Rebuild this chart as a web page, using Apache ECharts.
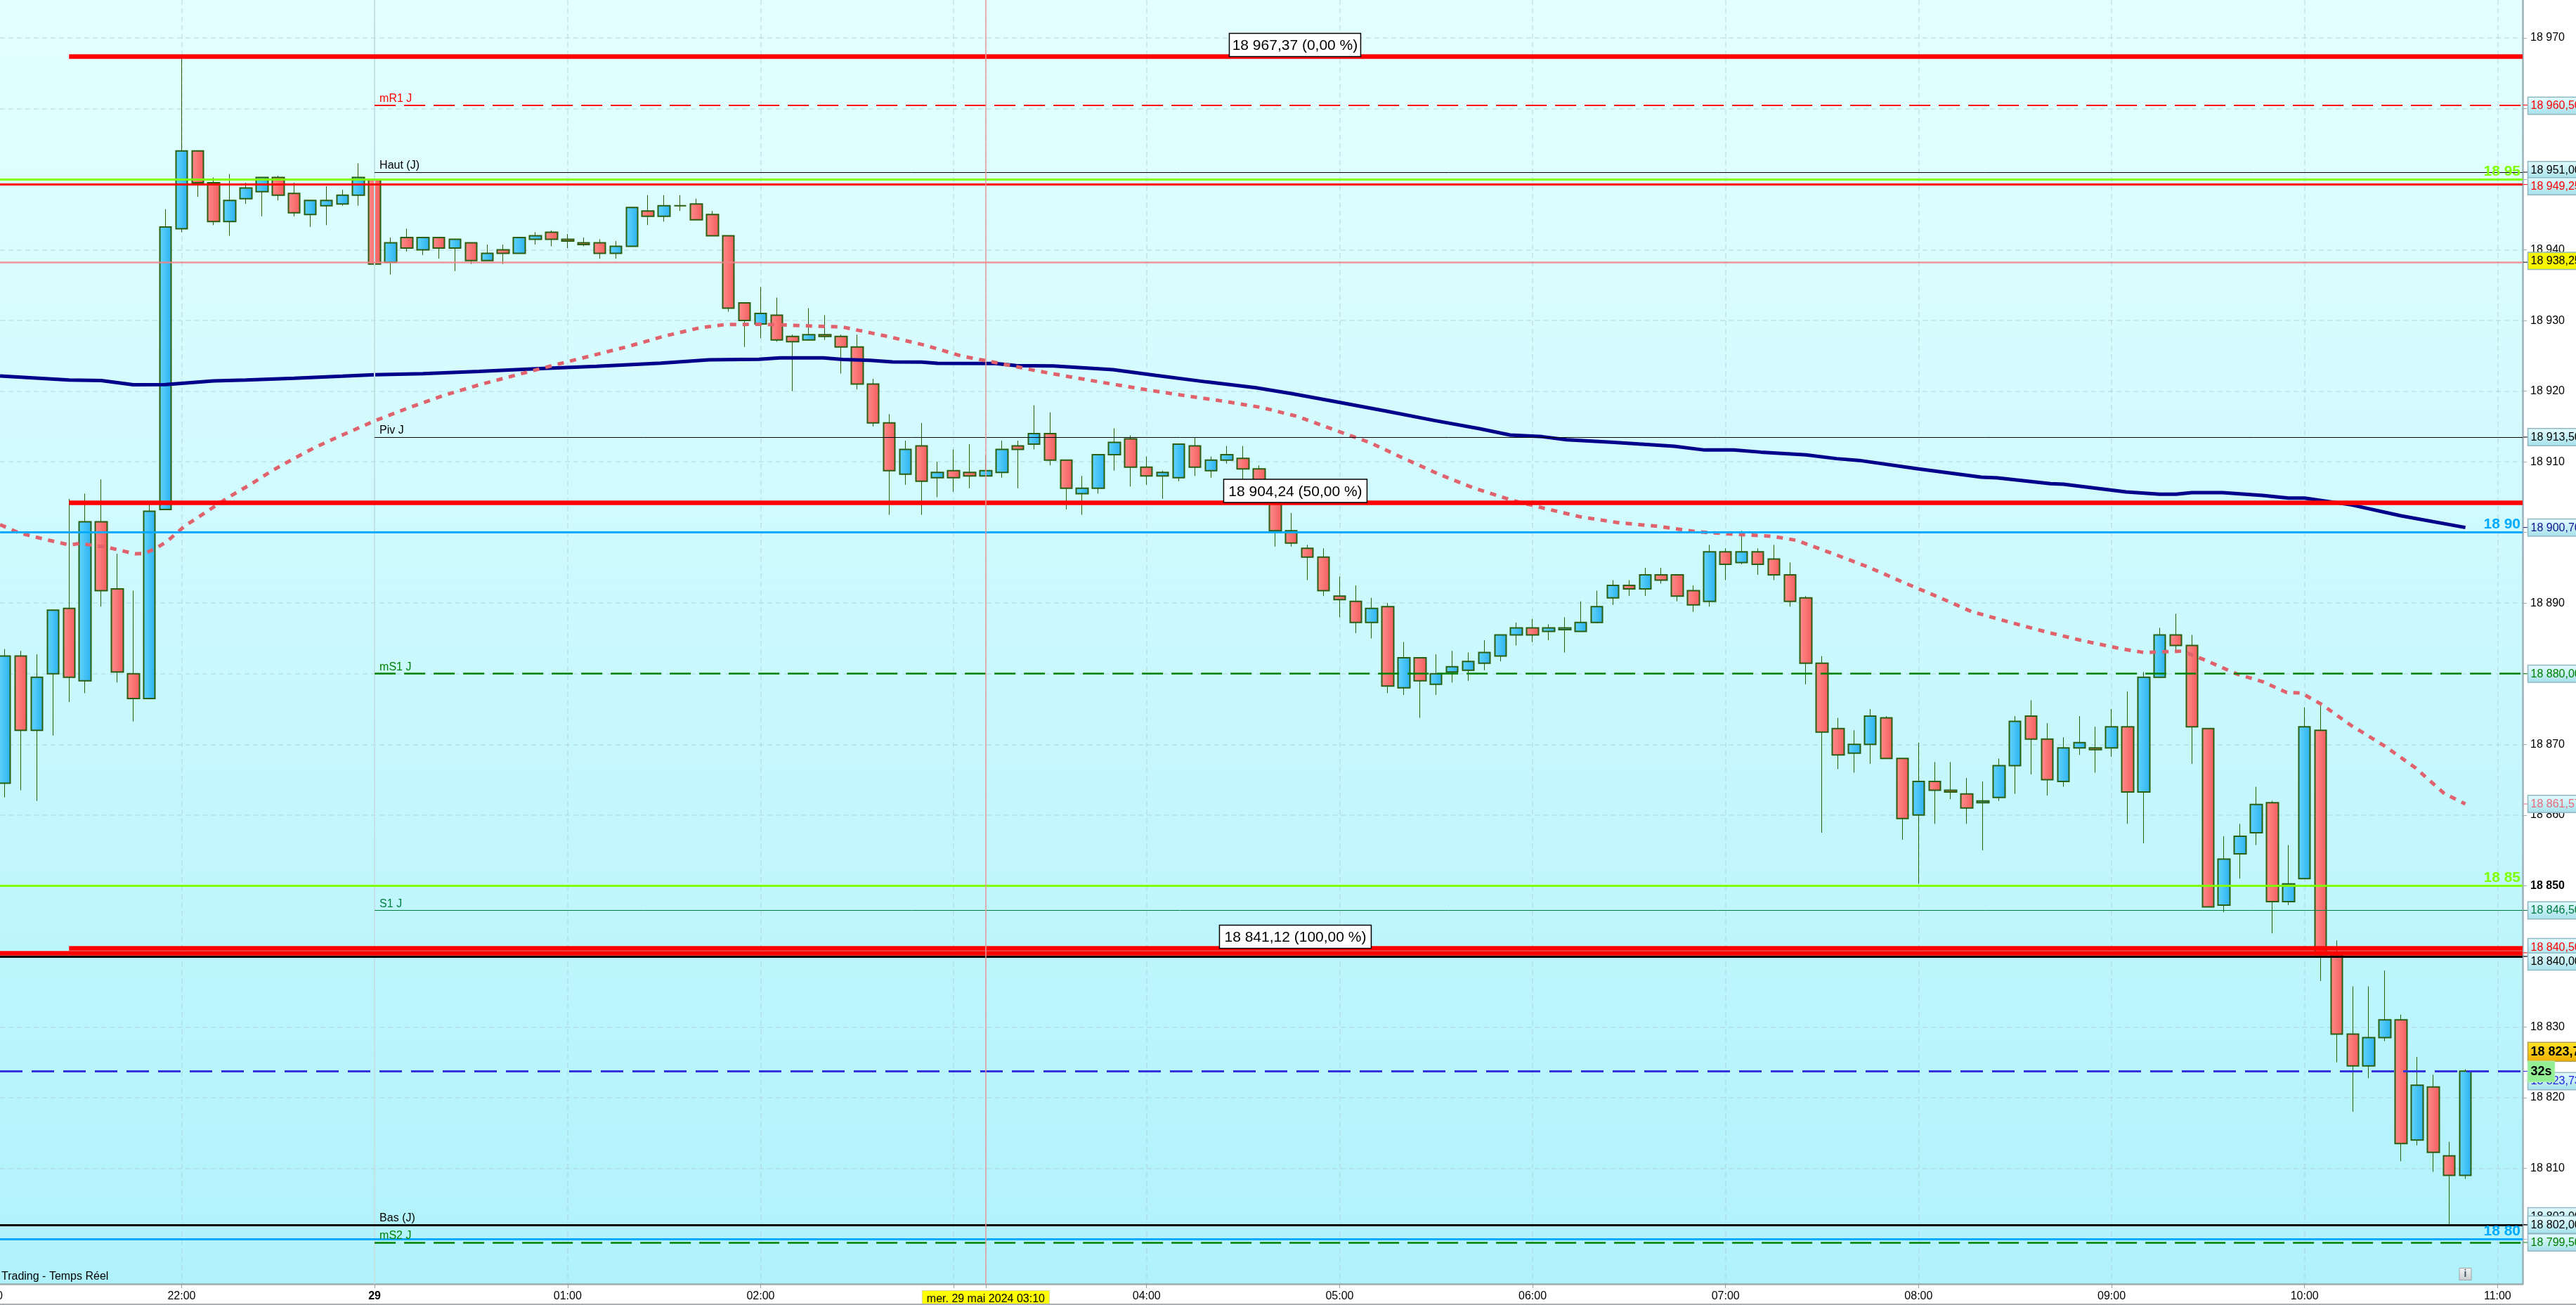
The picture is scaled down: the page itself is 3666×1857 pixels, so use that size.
<!DOCTYPE html>
<html><head><meta charset="utf-8">
<style>html,body{margin:0;padding:0;background:#fff}#c{width:3666px;height:1857px}</style>
<script src="https://cdn.jsdelivr.net/npm/echarts@6/dist/echarts.min.js"></script>
</head><body><div id="c"></div>
<script>
const opens=[18864.5,18882.5,18872,18880,18889.25,18879,18901.5,18892,18880,18876.5,
18903.25,18943,18954,18949.5,18944,18947.25,18948.25,18950.25,18948,18945,
18946.25,18946.5,18947.75,18950,18938.25,18941.75,18940,18941.75,18940.25,18941,
18938.5,18940,18939.5,18941.5,18942.5,18941.5,18941,18941,18939.5,18940.5,
18945.5,18944.75,18946.25,18946.5,18945,18942,18932.5,18929.5,18930.75,18927.75,
18927.25,18928,18927.75,18926.25,18921,18915.5,18908.25,18912.25,18907.75,18908.75,
18908.5,18908,18908.5,18912.25,18912.5,18914,18910.25,18905.5,18906.25,18911,
18913.25,18909.25,18908,18907.75,18912.25,18908.75,18910.25,18910.5,18909,18904.5,
18900.25,18897.75,18896.5,18891,18890.25,18887.25,18889.5,18878,18882.25,18878.5,
18880.25,18880.5,18881.5,18882.5,18885.5,18886.5,18886,18886.25,18886,18887.25,
18890.75,18892.5,18892,18894,18894,18891.75,18890.25,18897.25,18895.75,18897.25,
18896.25,18894,18890.75,18881.5,18872.25,18868.75,18870,18873.75,18868,18860,
18864.75,18863.5,18863,18861.75,18862.5,18867,18874,18870.75,18864.75,18869.5,
18869.5,18869.5,18872.5,18863.25,18879.5,18885.5,18884,18872.25,18847.25,18854.5,
18857.5,18861.75,18847.75,18851,18872,18840.25,18829,18824.5,18828.5,18831,
18814,18821.5,18811.75,18809];
const closes=[18882.5,18872,18879.5,18889,18879.5,18901.5,18891.75,18880.25,18876.5,18903,
18943.25,18954,18949.5,18944,18947,18948.75,18950.25,18947.75,18945.25,18947,
18947,18947.75,18950.25,18938,18941,18940.25,18941.75,18940.25,18941.5,18938.5,
18939.5,18939.5,18941.75,18942,18941.5,18941.25,18940.75,18939.5,18940.5,18946,
18944.75,18946.25,18946.25,18944.25,18942,18931.75,18930,18931,18927.25,18927,
18928,18927.75,18926.25,18921,18915.5,18908.75,18911.75,18907.25,18908.5,18907.75,
18908,18908.75,18911.75,18911.75,18914,18910.25,18906.25,18906.25,18911,18912.75,
18909.25,18908,18908.5,18912.5,18909.25,18910.25,18911,18909,18904.5,18900.25,
18898.5,18896.5,18891.75,18890.5,18887.25,18889.25,18878.25,18882.25,18879,18880,
18881,18881.75,18883,18885.5,18886.5,18885.5,18886.5,18886.5,18887.25,18889.5,
18892.5,18892,18894,18893.25,18891,18889.75,18897.25,18895.5,18897.25,18895.5,
18894,18890.25,18881.5,18871.75,18868.5,18870,18874,18868,18859.5,18864.75,
18863.5,18863.25,18861,18862,18867,18873.25,18870.75,18865,18869.5,18870.25,
18869.25,18872.5,18863.25,18879.5,18885.5,18884,18872.5,18847,18853.75,18857,
18861.5,18847.75,18850.25,18872.5,18840.25,18829,18824.5,18828.5,18831,18813.5,
18821.75,18812.25,18809,18823.75];
const lows=[18862.5,18863.5,18862,18871.25,18876,18877.25,18889.5,18878.75,18873.25,18876.5,
18903.25,18942.5,18947.5,18943.5,18942,18946.5,18944.75,18947,18944.75,18943.25,
18943.5,18946.25,18946.25,18937,18936.5,18939.75,18939.25,18938.75,18937,18938,
18938.5,18938,18939.5,18940.75,18940.5,18940.25,18940.5,18938.75,18938.75,18940.5,
18943.5,18944,18945.5,18944.25,18942,18931.25,18926.25,18927.5,18927,18920,
18927.25,18927.25,18922.5,18920.25,18915,18902.5,18906.75,18902.5,18905,18905.75,
18906.25,18908,18907.75,18906.25,18911.75,18909.5,18903.25,18902.5,18905.5,18908.75,
18906.5,18906.75,18904.75,18907.25,18908,18907.75,18909.75,18904.5,18904,18898,
18898,18893.25,18891,18888,18885.75,18885,18877.25,18877,18873.75,18877,
18878.75,18879,18880.5,18881.75,18884,18884.5,18884.75,18883,18886,18887.25,
18889.75,18891,18891,18892.75,18890.25,18888.75,18889.5,18893.25,18895.5,18894,
18893.25,18889.5,18878.5,18857.5,18866.5,18866,18867.25,18868,18856.5,18850.25,
18858.75,18862.25,18858.75,18855,18862,18863,18865.75,18862.75,18864,18868.5,
18866,18868.25,18858.75,18856,18879.5,18883,18867.25,18847,18846.25,18851,
18855.75,18843.25,18847.25,18851,18836.5,18825,18818,18822.75,18828,18811,
18813.25,18809.5,18802,18808.5];
const highs=[18883.5,18883.25,18882.75,18889,18904.75,18905.5,18907.5,18897,18891.75,18904,
18945.75,18967.25,18954,18950.25,18950.75,18949.5,18950.25,18950.5,18949.5,18947,
18949,18948.5,18952.25,18951,18941.75,18943,18941.75,18941.75,18941.5,18941,
18940.75,18940.75,18941.75,18942.5,18942.75,18942.25,18941.75,18941.5,18941.25,18946,
18947.75,18947.75,18947.75,18947.25,18945.5,18942,18932.5,18934.75,18933.25,18928,
18931.75,18930.75,18928,18928,18921.75,18916.75,18913,18915.5,18910,18911.75,
18912.5,18911,18913,18913,18918,18917,18910.25,18908,18911,18914.75,
18913.75,18910.75,18908.75,18912.5,18913.5,18910.75,18912.25,18912.25,18909.5,18904.5,
18902.75,18898.25,18897.75,18893.75,18892.5,18890.75,18890,18884.5,18882.25,18882.75,
18883.25,18883,18884.75,18885.5,18887.25,18887.75,18887,18888,18890.25,18891.75,
18893.25,18893.25,18895,18895,18894,18892.5,18898.25,18897.75,18900.25,18897.75,
18898.25,18895.75,18891,18882.5,18873.75,18872,18875,18874,18868,18870.25,
18867.5,18867.5,18865.25,18864.75,18868,18874,18876.25,18873,18871,18874,
18872.5,18875,18877.5,18880.25,18886.5,18888.5,18885.5,18872.25,18857,18858.75,
18864,18862,18855.75,18875.25,18875.5,18842.25,18835.75,18835.75,18838,18831.75,
18825.75,18823.25,18813.75,18824];

const smaIdx=[-0.29,4,6,8,10,13,15,18,21,23,26,29.5,33,36.8,40.8,43.8,46.9,48.2,50.9,52.1,53.8,55.2,57,58,61.6,62.9,65.2,68.9,71.6,74.7,77.8,80,82.8,85.9,88.9,91.7,93.6,95.6,97.1,99.9,103.8,105.7,107.5,109.2,112,113.9,115.3,119,122.9,123.9,127.2,128,131.9,134,135,136,137.9,140.4,142,143,145.9,149,153];
const smaVal=[18922.16,18921.57,18921.5,18920.9,18920.94,18921.45,18921.57,18921.84,18922.12,18922.32,18922.47,18922.79,18923.18,18923.53,18923.96,18924.44,18924.52,18924.72,18924.72,18924.5,18924.37,18924.14,18924.11,18923.94,18923.91,18923.61,18923.58,18923.05,18922.22,18921.32,18920.49,18919.66,18918.5,18917.18,18915.85,18914.69,18913.8,18913.56,18913.13,18912.77,18912.2,18911.67,18911.67,18911.37,18910.98,18910.45,18910.2,18908.99,18907.83,18907.73,18906.9,18906.83,18905.74,18905.41,18905.41,18905.64,18905.64,18905.24,18904.87,18904.87,18903.91,18902.35,18900.7];
const emaIdx=[-0.29,0.9,2.5,4,4.7,6.4,8.1,8.7,9.4,10.1,11.2,12.6,13.9,15.3,16.6,17.9,19.3,20.8,23,25.1,27.3,29.5,31.8,34.1,36.5,38.7,41,43.2,44.8,47.2,49.5,52.1,54.9,57.3,59.5,61.8,64.1,66.5,68.9,71.1,73.5,75.8,78.2,80.4,82.6,84.9,87,89.2,91.3,93.7,95.8,98,100.4,102.8,105.2,107.5,109.9,111.4,113.7,115.9,118,120.2,122.3,124.7,126.9,129.1,131.5,133,135.4,136.8,138.8,140.4,141.9,142.8,144.1,145.9,148,149.9,151.7,153];
const emaVal=[18901.11,18899.93,18899.03,18898.24,18898.44,18897.89,18896.98,18897.02,18897.77,18898.75,18900.92,18903,18904.97,18906.82,18908.71,18910.36,18912.05,18913.6,18915.79,18917.63,18919.4,18920.9,18922.28,18923.65,18925.03,18926.29,18927.78,18928.96,18929.43,18929.47,18929.28,18929.08,18927.75,18926.46,18924.97,18923.97,18922.91,18921.92,18920.99,18920.16,18919.33,18918.57,18917.67,18916.41,18914.59,18912.7,18910.48,18908.22,18906.33,18904.57,18903.38,18902.2,18901.36,18900.87,18900.1,18899.76,18899.46,18898.89,18896.98,18895.08,18892.99,18890.89,18888.8,18887.28,18885.94,18884.73,18883.58,18883.01,18883.2,18881.95,18879.96,18878.87,18877.34,18877.28,18875.62,18872.68,18869.74,18866.67,18863.03,18861.57];

const priceTicks=[18800,18810,18820,18830,18840,18850,18860,18870,18880,18890,18900,18910,18920,18930,18940,18950,18960,18970];
const timeIdx=[11,23,35,47,59,61,71,83,95,107,119,131,143,155];
const timeLabels=['22:00','29','01:00','02:00','','mer. 29 mai 2024 03:10','04:00','05:00','06:00','07:00','08:00','09:00','10:00','11:00'];

const fibValues=[18967.37,18904.24,18841.12];
const fibTexts=['18 967,37 (0,00 %)','18 904,24 (50,00 %)','18 841,12 (100,00 %)'];
const levelValues=[18960.5,18951,18950,18949.25,18938.25,18913.5,18904.24,18900,18880,18850,18846.5,18841.12,18840.5,18840,18823.75,18802,18800,18799.5,18967.37];
const lineLabelValues=[18960.5,18951,18913.5,18880,18846.5,18802,18799.5];
const lineLabelTexts=['mR1 J','Haut (J)','Piv J','mS1 J','S1 J','Bas (J)','mS2 J'];
const roundValues=[18950,18900,18850,18800];
const roundTexts=['18 95','18 90','18 85','18 80'];
const tagValues=[18960.5,18951,18949.25,18938.25,18913.5,18900.7,18880,18861.57,18846.5,18840.5,18840,18823.73,18823.75,18823.75,18802,18802,18799.5];
const tagTexts=['18 960,50','18 951,00','18 949,25','18 938,25','18 913,50','18 900,70','18 880,00','18 861,57','18 846,50','18 840,50','18 840,00','18 823,73','18 823,75','32s','18 802,00','18 802,00','18 799,50'];

// ---- presentation ----
const FONT='"Liberation Sans"';
const RED='#FF0000',LIME='#7FFF00',SKY='#00AAFF',GREEN='#008000',BLK='#000000';
const xMin=-0.2927,xMax=156.558,yMin=18793.63,yMax=18975.37;
const levelStyle=[
 {c:RED,w:2,d:[30,12],s:23},{c:BLK,w:1,s:23},{c:LIME,w:3,s:xMin},{c:RED,w:3,s:xMin},
 {c:'rgba(240,130,135,.85)',w:2.5,s:xMin},{c:BLK,w:1,s:23},{c:RED,w:6.5,s:4},{c:SKY,w:3,s:xMin},
 {c:GREEN,w:2.5,d:[30,12],s:23},{c:LIME,w:3,s:xMin},{c:'#008040',w:1,s:23},{c:RED,w:6.5,s:4},
 {c:RED,w:6.5,s:xMin},{c:BLK,w:3,s:xMin},{c:'#3333DD',w:3,d:[32,13],s:xMin},{c:BLK,w:3,s:xMin},
 {c:SKY,w:3,s:xMin},{c:GREEN,w:2.5,d:[30,12],s:23},{c:RED,w:6.5,s:4}];
const lineLabelColor=[RED,BLK,BLK,GREEN,'#008040',BLK,GREEN];
const roundColor=[LIME,SKY,LIME,SKY];
const fibBox=[[-94,93],[-102,102],[-108,108]];
const tagStyle=[
 {c:RED,y:1},{c:BLK,y:-3},{c:RED,y:2.4},{c:BLK,y:-2,bg:'y'},{c:BLK},{c:'#101090'},{c:GREEN},{c:'#E66C7A'},{c:'#007A40'},
 {c:RED,y:-8},{c:BLK,y:7.5},{c:'#2222DD',y:14},{c:BLK,y:-27.5,bg:'g',b:1,h:27},{c:BLK,y:0.5,bg:'l',b:1,h:29,w:38},
 {c:BLK,y:-12},{c:BLK},{c:GREEN}];
const grad=(a,b,h)=>({type:'linear',x:0,y:0,x2:h?1:0,y2:h?0:1,colorStops:[{offset:0,color:a},{offset:1,color:b}]});

const chart=echarts.init(document.getElementById('c'),null,{renderer:'canvas'});
const hl=(v,st)=>[{coord:[st.s,v],lineStyle:{color:st.c,width:st.w,type:st.d||'solid',cap:'butt'}},{coord:[xMax,v]}];
const candleRows=opens.map((o,i)=>[i,o,closes[i],lows[i],highs[i]]);
const bodyRows=opens.map((o,i)=>[i,o,closes[i],Math.min(o,closes[i]),Math.max(o,closes[i])]);
const wickStyle='#2A5F10';

chart.setOption({
 animation:false,
 backgroundColor:'#ffffff',
 grid:{left:0,right:76,top:0,bottom:30,show:true,borderWidth:0,outerBoundsMode:'none',backgroundColor:grad('#E4FFFF','#B0F2FC')},
 xAxis:{type:'value',min:xMin,max:xMax,position:'bottom',
  axisLine:{show:true,onZero:false,lineStyle:{color:'#A0ACB0',width:2.5}},
  axisTick:{show:true,length:6,customValues:timeIdx,lineStyle:{color:'#8FA0A6',width:1}},
  splitLine:{show:true,lineStyle:{color:'rgba(175,205,215,.42)',width:2,type:[7,5]}},
  axisLabel:{customValues:timeIdx,margin:10,fontFamily:FONT,fontSize:16,color:'#000',
   formatter:v=>{const t=timeLabels[timeIdx.indexOf(v)];if(t==='29')return '{b|29}';if(t&&t.length>6)return '{d|'+t+'}';return t||'';},
   rich:{b:{fontFamily:FONT,fontSize:16,fontWeight:'bold',color:'#000'},
    d:{fontFamily:FONT,fontSize:16,color:'#000',backgroundColor:'#FFFF00',borderColor:'#D8D8B0',borderWidth:1,padding:[4,6,3,6]}}}},
 yAxis:{type:'value',min:yMin,max:yMax,position:'right',
  axisLine:{show:true,onZero:false,lineStyle:{color:'#9CB0B8',width:2.5}},
  axisTick:{show:true,length:6,customValues:priceTicks,lineStyle:{color:'#9CB0B8',width:1}},
  splitLine:{show:true,lineStyle:{color:'rgba(175,205,215,.42)',width:2,type:[7,5]}},
  axisLabel:{customValues:priceTicks,margin:11,fontFamily:FONT,fontSize:16,color:'#000',
   formatter:v=>{const s=String(v);const t=s.slice(0,2)+' '+s.slice(2);return v===18850?'{b|'+t+'}':t;},
   rich:{b:{fontFamily:FONT,fontSize:16,fontWeight:'bold',color:'#000'}}}},
 series:[
  {type:'line',name:'guide',z:1,data:[],silent:true,markLine:{silent:true,symbol:'none',animation:false,label:{show:false},
    data:[[{coord:[23,yMin],lineStyle:{color:'#C3E2E6',width:2,type:'solid'}},{coord:[23,yMax]}]]}},
  {type:'candlestick',name:'wicks',z:2,barWidth:2,data:candleRows,silent:true,
   itemStyle:{color:wickStyle,color0:wickStyle,borderColor:wickStyle,borderColor0:wickStyle,borderColorDoji:wickStyle,borderWidth:1}},
  {type:'candlestick',name:'bodies',z:3,barWidth:17,data:bodyRows,silent:true,
   itemStyle:{color:grad('#62D6FF','#2BB0EC',true),color0:grad('#FF8C8C','#F45C5C',true),borderColor:wickStyle,borderColor0:wickStyle,borderColorDoji:wickStyle,borderWidth:2}},
  {type:'line',name:'SMA',z:4,showSymbol:false,silent:true,data:smaIdx.map((x,i)=>[x,smaVal[i]]),lineStyle:{color:'#00008B',width:5}},
  {type:'line',name:'EMA',z:4,showSymbol:false,silent:true,data:emaIdx.map((x,i)=>[x,emaVal[i]]),lineStyle:{color:'#E0626C',width:5,type:[9,9],cap:'butt'}},
  {type:'custom',name:'lineLabels',z:5,silent:true,coordinateSystem:'cartesian2d',
   data:lineLabelValues.map(v=>[23,v]),
   renderItem:(p,api)=>{const c=api.coord([api.value(0),api.value(1)]);
    return {type:'text',style:{x:c[0]+7,y:c[1]-1,text:lineLabelTexts[p.dataIndex],fill:lineLabelColor[p.dataIndex],font:'16px '+FONT,align:'left',verticalAlign:'bottom'}};}},
  {type:'custom',name:'fibLabels',z:5,silent:true,coordinateSystem:'cartesian2d',
   data:fibValues.map(v=>[80.25,v]),
   renderItem:(p,api)=>{const c=api.coord([api.value(0),api.value(1)]);const b=fibBox[p.dataIndex];
    return {type:'group',children:[
     {type:'rect',shape:{x:c[0]+b[0],y:c[1]-33,width:b[1]-b[0],height:33},style:{fill:'#fff',stroke:'#000',lineWidth:1.5}},
     {type:'text',style:{x:c[0]+(b[0]+b[1])/2,y:c[1]-15,text:fibTexts[p.dataIndex],fill:'#000',font:'21px '+FONT,align:'center',verticalAlign:'middle'}}]};}},
  {type:'line',name:'levels',z:6,data:[],silent:true,markLine:{silent:true,symbol:'none',animation:false,label:{show:false},
    data:levelValues.map((v,i)=>hl(v,levelStyle[i])).concat([[{coord:[61,yMin],lineStyle:{color:'#E89A9A',width:1.5,type:'solid'}},{coord:[61,yMax]}]])}},
  {type:'custom',name:'roundLabels',z:7,silent:true,coordinateSystem:'cartesian2d',
   data:roundValues.map(v=>[xMax,v]),
   renderItem:(p,api)=>{const c=api.coord([api.value(0),api.value(1)]);
    return {type:'text',style:{x:c[0]-3,y:c[1]-0.5,text:roundTexts[p.dataIndex],fill:roundColor[p.dataIndex],font:'bold 21px '+FONT,align:'right',verticalAlign:'bottom'}};}},
  {type:'custom',name:'priceTags',z:8,silent:true,coordinateSystem:'cartesian2d',
   data:tagValues.map(v=>[xMax,v]),
   renderItem:(p,api)=>{const i=p.dataIndex,s=tagStyle[i],c=api.coord([api.value(0),api.value(1)]);
    const cy=c[1]+(s.y||0),h=s.h||24.5,L=3597.5,w=s.w||120;
    const fill=s.bg==='y'?'#F6F600':s.bg==='g'?grad('#FFE428','#EFAE00'):s.bg==='l'?'#94EE94':grad('#E4FDFF','#A6E0EA');
    const stroke=s.bg==='g'?'#B0A050':s.bg==='l'?'#A8F0A8':'#8FB8C4';
    const kids=[];
    if(!s.bg||s.bg==='y')kids.push({type:'rect',shape:{x:3591,y:c[1]-0.5,width:6.5,height:1},style:{fill:s.c}});
    kids.push({type:'rect',shape:{x:L,y:cy-h/2,width:w,height:h},style:{fill,stroke,lineWidth:1.5}});
    kids.push({type:'text',style:{x:L+4,y:cy+0.5,text:tagTexts[i],fill:s.c,font:(s.b?'bold 18px ':'16px ')+FONT,align:'left',verticalAlign:'middle'}});
    return {type:'group',children:kids};}}
 ],
 graphic:[
  {type:'text',z:9,style:{x:-16,y:1845,text:'21:00',fill:'#000',font:'16px '+FONT,align:'center',verticalAlign:'middle'}},
  {type:'text',z:9,style:{x:2,y:1825,text:'Trading - Temps Réel',fill:'#000',font:'16px '+FONT,align:'left',verticalAlign:'bottom'}},
  {type:'rect',z:9,shape:{x:0,y:1855,width:3666,height:2},style:{fill:'#A8B0B4'}},
  {type:'rect',z:9,shape:{x:3500,y:1804.5,width:17,height:17},style:{fill:grad('#F4F4F4','#C8CCD0'),stroke:'#A0A4A8',lineWidth:1}},
  {type:'text',z:9,style:{x:3508.5,y:1813,text:'i',fill:'#405060',font:'bold 14px '+FONT,align:'center',verticalAlign:'middle'}}
 ]
});
</script></body></html>
